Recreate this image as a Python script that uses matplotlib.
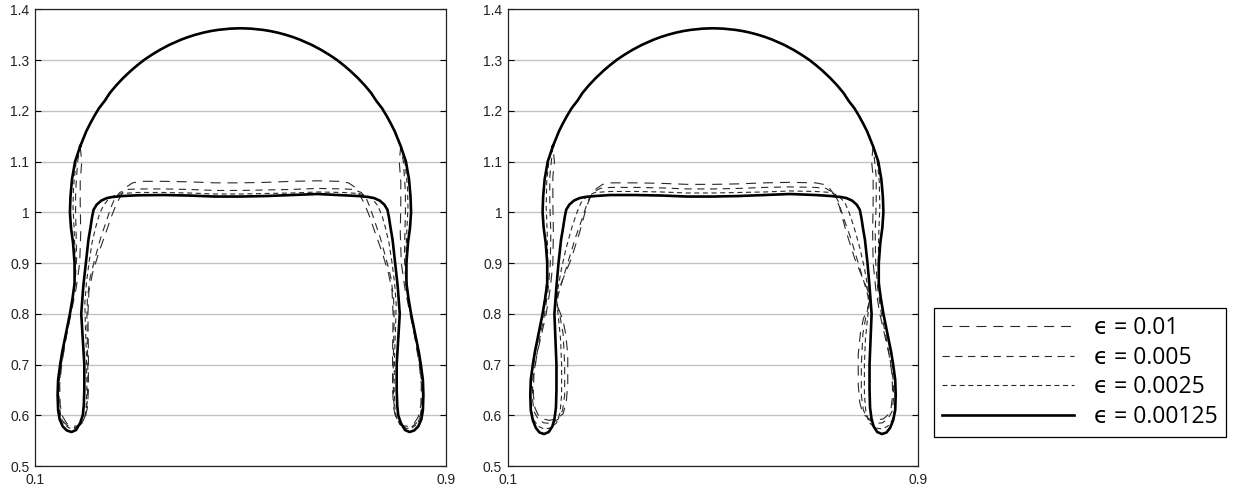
import matplotlib
matplotlib.use("Agg")
import matplotlib.pyplot as plt
from matplotlib.lines import Line2D

plt.rcParams["lines.scale_dashes"] = False

# ---------------- data ----------------
# shared upper arc of the dome (left -> right)
dome_x = [0.188, 0.1939, 0.200, 0.2075, 0.2156, 0.2245, 0.236, 0.2456, 0.258, 0.272, 0.2878, 0.2995,
          0.312, 0.3267, 0.343, 0.3616, 0.384, 0.3972, 0.4127, 0.4277, 0.4415, 0.456, 0.48, 0.5,
          0.52, 0.544, 0.5585, 0.5723, 0.5873, 0.6028, 0.616, 0.6384, 0.657, 0.6733, 0.688, 0.7005,
          0.7122, 0.728, 0.742, 0.7544, 0.764, 0.7755, 0.7844, 0.7925, 0.800, 0.8061, 0.812]
dome_y = [1.13, 1.145, 1.16, 1.175, 1.19, 1.205, 1.22, 1.235, 1.25, 1.265, 1.28, 1.29,
          1.30, 1.31, 1.32, 1.33, 1.34, 1.345, 1.35, 1.354, 1.357, 1.3594, 1.3619, 1.3626,
          1.3619, 1.3594, 1.357, 1.354, 1.35, 1.345, 1.34, 1.33, 1.32, 1.31, 1.30, 1.29,
          1.28, 1.265, 1.25, 1.235, 1.22, 1.205, 1.19, 1.175, 1.16, 1.145, 1.13]

# lower parts: right outer side down, right foot, right inner side, plateau (right->left),
# left inner side, left foot, left outer side up

# ---- left panel ----
A_00125_x = [0.822, 0.828, 0.831, 0.832, 0.830, 0.826, 0.823, 0.823, 0.827, 0.832, 0.837, 0.842, 0.847, 0.851,
             0.855, 0.856, 0.855, 0.852, 0.846, 0.838, 0.829, 0.820, 0.812, 0.807, 0.805, 0.804, 0.804, 0.807,
             0.810, 0.806, 0.801, 0.796, 0.792, 0.789, 0.786, 0.780, 0.771, 0.760, 0.750, 0.730, 0.700, 0.650,
             0.600, 0.550,
             0.500, 0.450, 0.400, 0.350, 0.300, 0.270, 0.250, 0.240, 0.229, 0.220, 0.214, 0.211, 0.208, 0.204,
             0.199, 0.194, 0.190, 0.193, 0.196, 0.196, 0.195, 0.193, 0.188, 0.180, 0.171, 0.162, 0.154, 0.148,
             0.145, 0.144, 0.145, 0.149, 0.153, 0.158, 0.163, 0.168, 0.173, 0.177, 0.177, 0.174, 0.170, 0.168,
             0.169, 0.172, 0.178]
A_00125_y = [1.10, 1.065, 1.03, 1.00, 0.97, 0.94, 0.90, 0.86, 0.83, 0.80, 0.775, 0.75, 0.725, 0.70,
             0.67, 0.64, 0.61, 0.592, 0.578, 0.570, 0.567, 0.571, 0.585, 0.60, 0.62, 0.65, 0.70, 0.75,
             0.80, 0.854, 0.90, 0.946, 0.97, 0.99, 1.005, 1.015, 1.023, 1.028, 1.030, 1.032, 1.0335, 1.036,
             1.034, 1.032,
             1.031, 1.031, 1.033, 1.034, 1.0335, 1.032, 1.030, 1.028, 1.023, 1.015, 1.005, 0.99, 0.97, 0.946,
             0.90, 0.854, 0.80, 0.75, 0.70, 0.65, 0.62, 0.60, 0.585, 0.571, 0.567, 0.570, 0.578, 0.592,
             0.61, 0.64, 0.67, 0.70, 0.725, 0.75, 0.775, 0.80, 0.83, 0.86, 0.90, 0.94, 0.97, 1.00,
             1.03, 1.065, 1.10]

A_0025_x = [0.820, 0.825, 0.826, 0.824, 0.822, 0.823, 0.827, 0.832, 0.838, 0.845, 0.851, 0.854, 0.854, 0.850,
            0.843, 0.834, 0.822, 0.810, 0.803, 0.800, 0.799, 0.800, 0.802, 0.803, 0.800, 0.795, 0.789, 0.782,
            0.775, 0.767, 0.757, 0.745, 0.730, 0.700, 0.650, 0.600, 0.550,
            0.500, 0.450, 0.400, 0.350, 0.300, 0.270, 0.255, 0.243, 0.233, 0.225, 0.218, 0.211, 0.205, 0.200,
            0.197, 0.198, 0.200, 0.201, 0.200, 0.197, 0.190, 0.178, 0.166, 0.157, 0.150, 0.146, 0.146, 0.149,
            0.155, 0.162, 0.168, 0.173, 0.177, 0.178, 0.176, 0.174, 0.175, 0.180]
A_0025_y = [1.10, 1.05, 1.01, 0.97, 0.92, 0.87, 0.83, 0.80, 0.77, 0.73, 0.69, 0.65, 0.62, 0.596,
            0.582, 0.575, 0.574, 0.582, 0.597, 0.62, 0.66, 0.72, 0.78, 0.82, 0.86, 0.90, 0.94, 0.97,
            0.995, 1.013, 1.026, 1.033, 1.037, 1.039, 1.040, 1.038, 1.037,
            1.036, 1.036, 1.038, 1.039, 1.039, 1.037, 1.033, 1.026, 1.013, 0.995, 0.97, 0.94, 0.90, 0.86,
            0.82, 0.78, 0.72, 0.66, 0.62, 0.597, 0.582, 0.574, 0.575, 0.582, 0.596, 0.62, 0.65, 0.69,
            0.73, 0.77, 0.80, 0.83, 0.87, 0.92, 0.97, 1.01, 1.05, 1.10]

A_0005_x = [0.817, 0.821, 0.821, 0.820, 0.819, 0.822, 0.828, 0.835, 0.842, 0.849, 0.853, 0.853, 0.850, 0.843,
            0.833, 0.820, 0.808, 0.801, 0.798, 0.797, 0.798, 0.799, 0.798, 0.793, 0.783, 0.772, 0.762, 0.752,
            0.745, 0.735, 0.720, 0.700, 0.650, 0.600, 0.550,
            0.500, 0.450, 0.400, 0.350, 0.300, 0.280, 0.265, 0.255, 0.248, 0.238, 0.228, 0.217, 0.207, 0.202,
            0.201, 0.202, 0.203, 0.202, 0.199, 0.192, 0.180, 0.167, 0.157, 0.150, 0.147, 0.147, 0.151, 0.158,
            0.165, 0.172, 0.178, 0.181, 0.180, 0.179, 0.179, 0.183]
A_0005_y = [1.10, 1.04, 1.00, 0.96, 0.91, 0.86, 0.82, 0.78, 0.74, 0.70, 0.66, 0.62, 0.60, 0.585,
            0.577, 0.576, 0.585, 0.602, 0.63, 0.68, 0.74, 0.79, 0.83, 0.87, 0.91, 0.95, 0.98, 1.01,
            1.027, 1.039, 1.045, 1.046, 1.047, 1.045, 1.044,
            1.043, 1.043, 1.045, 1.046, 1.046, 1.045, 1.039, 1.027, 1.01, 0.98, 0.95, 0.91, 0.87, 0.83,
            0.79, 0.74, 0.68, 0.63, 0.602, 0.585, 0.576, 0.577, 0.585, 0.60, 0.62, 0.66, 0.70, 0.74,
            0.78, 0.82, 0.86, 0.91, 0.96, 1.00, 1.04, 1.10]

A_001_x = [0.809, 0.812, 0.812, 0.811, 0.813, 0.820, 0.830, 0.840, 0.848, 0.852, 0.851, 0.846, 0.838, 0.826,
           0.813, 0.803, 0.798, 0.796, 0.796, 0.797, 0.795, 0.788, 0.776, 0.762, 0.750, 0.742, 0.732, 0.722,
           0.710, 0.690, 0.650, 0.600, 0.550,
           0.500, 0.450, 0.400, 0.350, 0.310, 0.290, 0.278, 0.268, 0.258, 0.250, 0.238, 0.224, 0.212, 0.205,
           0.203, 0.204, 0.204, 0.202, 0.197, 0.187, 0.174, 0.162, 0.154, 0.149, 0.148, 0.152, 0.160, 0.170,
           0.180, 0.187, 0.189, 0.188, 0.188, 0.191]
A_001_y = [1.10, 1.06, 1.02, 0.96, 0.90, 0.85, 0.80, 0.75, 0.70, 0.66, 0.62, 0.597, 0.584, 0.578,
           0.580, 0.593, 0.615, 0.65, 0.72, 0.80, 0.845, 0.88, 0.92, 0.96, 0.995, 1.015, 1.035, 1.05,
           1.058, 1.061, 1.062, 1.061, 1.059,
           1.058, 1.058, 1.060, 1.061, 1.061, 1.058, 1.05, 1.035, 1.015, 0.995, 0.96, 0.92, 0.88, 0.845,
           0.80, 0.72, 0.65, 0.615, 0.593, 0.580, 0.578, 0.584, 0.597, 0.62, 0.66, 0.70, 0.75, 0.80,
           0.85, 0.90, 0.96, 1.02, 1.06, 1.10]

# ---- right panel ----
B_00125_x = [0.822, 0.828, 0.831, 0.832, 0.830, 0.826, 0.823, 0.823, 0.827, 0.832, 0.837, 0.842, 0.847, 0.851,
             0.855, 0.856, 0.855, 0.851, 0.845, 0.838, 0.829, 0.820, 0.813, 0.809, 0.806, 0.805, 0.805, 0.807,
             0.809, 0.805, 0.801, 0.796, 0.792, 0.789, 0.786, 0.780, 0.771, 0.760, 0.750, 0.730, 0.700, 0.650,
             0.600, 0.550,
             0.500, 0.450, 0.400, 0.350, 0.300, 0.270, 0.250, 0.240, 0.229, 0.220, 0.214, 0.211, 0.208, 0.204,
             0.199, 0.195, 0.191, 0.193, 0.195, 0.195, 0.194, 0.191, 0.187, 0.180, 0.171, 0.162, 0.155, 0.149,
             0.145, 0.144, 0.145, 0.149, 0.153, 0.158, 0.163, 0.168, 0.173, 0.177, 0.177, 0.174, 0.170, 0.168,
             0.169, 0.172, 0.178]
B_00125_y = [1.10, 1.065, 1.03, 1.00, 0.97, 0.94, 0.90, 0.86, 0.83, 0.80, 0.775, 0.75, 0.725, 0.70,
             0.67, 0.64, 0.61, 0.59, 0.575, 0.566, 0.563, 0.567, 0.578, 0.592, 0.615, 0.65, 0.70, 0.75,
             0.80, 0.854, 0.90, 0.946, 0.97, 0.99, 1.005, 1.015, 1.023, 1.028, 1.030, 1.032, 1.034, 1.036,
             1.034, 1.032,
             1.031, 1.031, 1.033, 1.034, 1.034, 1.032, 1.030, 1.028, 1.023, 1.015, 1.005, 0.99, 0.97, 0.946,
             0.90, 0.854, 0.80, 0.75, 0.70, 0.65, 0.615, 0.592, 0.578, 0.567, 0.563, 0.566, 0.575, 0.59,
             0.61, 0.64, 0.67, 0.70, 0.725, 0.75, 0.775, 0.80, 0.83, 0.86, 0.90, 0.94, 0.97, 1.00,
             1.03, 1.065, 1.10]

B_0025_x = [0.820, 0.824, 0.825, 0.823, 0.822, 0.825, 0.832, 0.839, 0.847, 0.853, 0.855, 0.854, 0.849, 0.840,
            0.829, 0.816, 0.805, 0.798, 0.795, 0.795, 0.797, 0.801, 0.804, 0.802, 0.795, 0.786, 0.775, 0.765,
            0.757, 0.745, 0.730, 0.700, 0.650, 0.600, 0.550,
            0.500, 0.450, 0.400, 0.350, 0.300, 0.270, 0.255, 0.243, 0.235, 0.225, 0.214, 0.205, 0.198, 0.196,
            0.199, 0.203, 0.205, 0.205, 0.202, 0.195, 0.184, 0.171, 0.160, 0.151, 0.146, 0.145, 0.147, 0.153,
            0.161, 0.168, 0.175, 0.178, 0.177, 0.175, 0.176, 0.180]
B_0025_y = [1.10, 1.06, 1.01, 0.96, 0.90, 0.85, 0.80, 0.76, 0.72, 0.68, 0.64, 0.61, 0.59, 0.578,
            0.573, 0.575, 0.585, 0.605, 0.64, 0.70, 0.75, 0.79, 0.82, 0.85, 0.89, 0.93, 0.97, 1.00,
            1.019, 1.032, 1.039, 1.041, 1.042, 1.040, 1.039,
            1.038, 1.038, 1.040, 1.041, 1.041, 1.039, 1.032, 1.019, 1.00, 0.97, 0.93, 0.89, 0.85, 0.82,
            0.79, 0.75, 0.70, 0.64, 0.605, 0.585, 0.575, 0.573, 0.578, 0.59, 0.61, 0.64, 0.68, 0.72,
            0.76, 0.80, 0.85, 0.90, 0.96, 1.01, 1.06, 1.10]

B_0005_x = [0.815, 0.818, 0.818, 0.816, 0.817, 0.821, 0.828, 0.836, 0.845, 0.851, 0.852, 0.849, 0.841, 0.830,
            0.816, 0.802, 0.793, 0.789, 0.789, 0.792, 0.798, 0.803, 0.802, 0.795, 0.783, 0.768, 0.754, 0.744,
            0.734, 0.720, 0.700, 0.650, 0.600, 0.550,
            0.500, 0.450, 0.400, 0.350, 0.300, 0.280, 0.266, 0.256, 0.246, 0.232, 0.217, 0.205, 0.198, 0.197,
            0.202, 0.208, 0.211, 0.211, 0.207, 0.198, 0.184, 0.170, 0.159, 0.151, 0.148, 0.149, 0.155, 0.164,
            0.172, 0.179, 0.183, 0.184, 0.182, 0.182, 0.185]
B_0005_y = [1.10, 1.07, 1.02, 0.96, 0.90, 0.85, 0.80, 0.76, 0.71, 0.67, 0.635, 0.608, 0.593, 0.585,
            0.584, 0.592, 0.61, 0.64, 0.70, 0.76, 0.795, 0.815, 0.835, 0.86, 0.90, 0.95, 0.99, 1.022,
            1.039, 1.047, 1.049, 1.050, 1.049, 1.047,
            1.046, 1.046, 1.048, 1.049, 1.049, 1.047, 1.039, 1.022, 0.99, 0.95, 0.90, 0.86, 0.835, 0.815,
            0.795, 0.76, 0.70, 0.64, 0.61, 0.592, 0.584, 0.585, 0.593, 0.608, 0.635, 0.67, 0.71, 0.76,
            0.80, 0.85, 0.90, 0.96, 1.02, 1.07, 1.10]

B_001_x = [0.809, 0.812, 0.812, 0.811, 0.812, 0.817, 0.825, 0.834, 0.843, 0.849, 0.850, 0.847, 0.841, 0.832,
           0.819, 0.804, 0.792, 0.786, 0.783, 0.783, 0.787, 0.793, 0.801, 0.805, 0.802, 0.793, 0.777, 0.760,
           0.746, 0.738, 0.728, 0.715, 0.700, 0.650, 0.600, 0.550,
           0.500, 0.450, 0.400, 0.350, 0.300, 0.285, 0.272, 0.262, 0.254, 0.240, 0.223, 0.207, 0.198, 0.195,
           0.199, 0.207, 0.213, 0.217, 0.217, 0.214, 0.208, 0.196, 0.181, 0.168, 0.159, 0.153, 0.150, 0.151,
           0.157, 0.166, 0.175, 0.183, 0.188, 0.189, 0.188, 0.188, 0.191]
B_001_y = [1.10, 1.07, 1.02, 0.96, 0.90, 0.85, 0.80, 0.76, 0.72, 0.68, 0.64, 0.615, 0.601, 0.593,
           0.590, 0.593, 0.603, 0.625, 0.66, 0.72, 0.76, 0.79, 0.81, 0.826, 0.845, 0.867, 0.906, 0.96,
           1.012, 1.032, 1.046, 1.055, 1.058, 1.059, 1.058, 1.056,
           1.055, 1.055, 1.057, 1.058, 1.058, 1.055, 1.046, 1.032, 1.012, 0.96, 0.906, 0.867, 0.845, 0.826,
           0.81, 0.79, 0.76, 0.72, 0.66, 0.625, 0.603, 0.593, 0.590, 0.593, 0.601, 0.615, 0.64, 0.68,
           0.72, 0.76, 0.80, 0.85, 0.90, 0.96, 1.02, 1.07, 1.10]

labels = ["\u03f5 = 0.01", "\u03f5 = 0.005", "\u03f5 = 0.0025", "\u03f5 = 0.00125"]
y_ticks = [0.5, 0.6, 0.7, 0.8, 0.9, 1.0, 1.1, 1.2, 1.3, 1.4]
y_tick_labels = ["0.5", "0.6", "0.7", "0.8", "0.9", "1", "1.1", "1.2", "1.3", "1.4"]
x_ticks = [0.1, 0.9]
x_tick_labels = ["0.1", "0.9"]

# ---------------- styles ----------------
styles = [
    dict(color="#2a2a2a", lw=0.8, dashes=(7.2, 5.0)),
    dict(color="#2a2a2a", lw=0.8, dashes=(5.2, 4.0)),
    dict(color="#2a2a2a", lw=0.8, dashes=(3.6, 2.6)),
    dict(color="black", lw=1.9),
]

panels = [
    [(A_001_x, A_001_y), (A_0005_x, A_0005_y), (A_0025_x, A_0025_y), (A_00125_x, A_00125_y)],
    [(B_001_x, B_001_y), (B_0005_x, B_0005_y), (B_0025_x, B_0025_y), (B_00125_x, B_00125_y)],
]

W, H = 1251, 496
fig = plt.figure(figsize=(W / 100, H / 100), dpi=100)
axes_px = [(35, 30, 411, 456.7), (507.7, 30, 410.6, 456.7)]

for (l, b, w, h), curves in zip(axes_px, panels):
    ax = fig.add_axes([l / W, b / H, w / W, h / H])
    for (lx, ly), st in zip(curves, styles):
        xs = dome_x + lx + dome_x[:1]
        ys = dome_y + ly + dome_y[:1]
        ax.plot(xs, ys, solid_joinstyle="round", dash_joinstyle="round", **st)
    ax.set_xlim(0.1, 0.9)
    ax.set_ylim(0.5, 1.4)
    ax.set_yticks(y_ticks)
    ax.set_yticklabels(y_tick_labels)
    ax.set_xticks(x_ticks)
    ax.set_xticklabels(x_tick_labels)
    ax.yaxis.grid(True, color="#c2c2c2", lw=1.0)
    ax.set_axisbelow(True)
    ax.tick_params(axis="y", direction="in", length=4, width=0.8, right=True,
                   labelsize=10, pad=4, labelcolor="#222222")
    ax.tick_params(axis="x", length=0, labelsize=10, pad=5, labelcolor="#222222")
    for lab in ax.get_xticklabels() + ax.get_yticklabels():
        lab.set_family("Liberation Sans")
    for sp in ax.spines.values():
        sp.set_color("#222222")
        sp.set_linewidth(0.9)

handles = [Line2D([], [], **st) for st in styles]
leg = fig.legend(handles, labels, loc="upper left",
                 bbox_to_anchor=(934 / W, 1 - 308 / H), borderaxespad=0,
                 frameon=True, fancybox=False, edgecolor="black", framealpha=1,
                 handlelength=5.76, handletextpad=0.87, labelspacing=0.245, borderpad=0.36,
                 prop={"family": ["Open Sans", "DejaVu Sans"], "size": 16.5})
leg.get_frame().set_linewidth(0.9)

fig.savefig("out.png", dpi=100)
